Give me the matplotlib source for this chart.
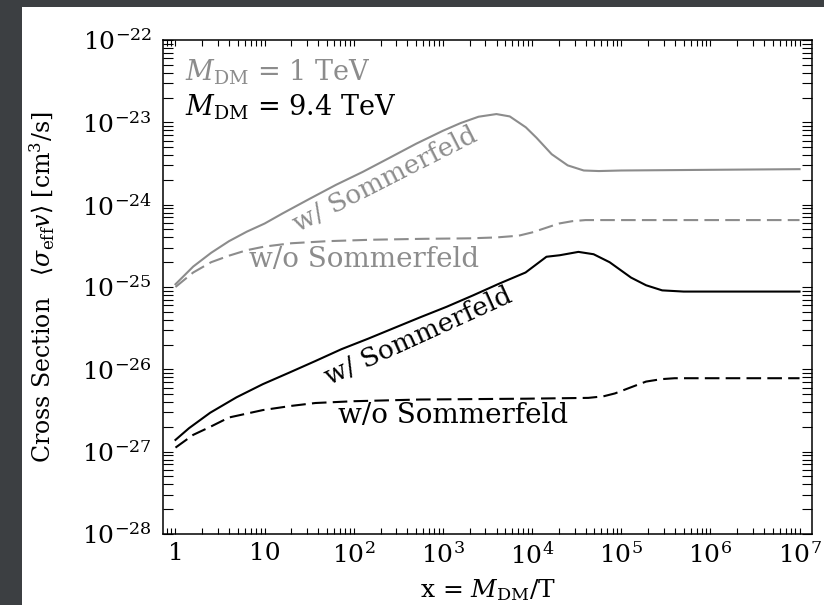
import numpy as np
import matplotlib
matplotlib.use('Agg')
import matplotlib.pyplot as plt
from matplotlib.patches import Rectangle
from matplotlib.ticker import LogLocator, FixedLocator, FixedFormatter, NullFormatter

plt.rcParams['font.family'] = ['DejaVu Serif']
plt.rcParams['mathtext.fontset'] = 'dejavuserif'

# thermally averaged cross sections vs x = M_DM/T
# M_DM = 1 TeV, with Sommerfeld enhancement
x_1tev_sf = [1, 1.58, 2.51, 3.98, 6.31, 10, 15.8, 31.6, 63.1, 126, 251, 501,
             1000, 1580, 2510, 3980, 5620, 8510, 11200, 16600, 25100, 38000,
             56200, 1e5, 1e6, 1e7]
y_1tev_sf = [1.08e-25, 1.77e-25, 2.6e-25, 3.6e-25, 4.7e-25, 5.9e-25, 7.8e-25,
             1.17e-24, 1.74e-24, 2.5e-24, 3.7e-24, 5.5e-24,
             7.9e-24, 9.8e-24, 1.17e-23, 1.26e-23, 1.18e-23, 8.7e-24,
             6.5e-24, 4.1e-24, 3.0e-24, 2.6e-24,
             2.56e-24, 2.6e-24, 2.65e-24, 2.7e-24]

# M_DM = 1 TeV, without Sommerfeld
x_1tev = [1, 1.58, 2.51, 3.98, 6.31, 10, 20, 50, 158, 631, 2000, 3980,
          7080, 10000, 14100, 20000, 28200, 39800, 1e5, 1e6, 1e7]
y_1tev = [1.0e-25, 1.5e-25, 2.0e-25, 2.4e-25, 2.8e-25, 3.1e-25, 3.4e-25,
          3.6e-25, 3.75e-25, 3.85e-25, 3.9e-25, 4.0e-25,
          4.2e-25, 4.6e-25, 5.2e-25, 5.9e-25, 6.3e-25, 6.5e-25, 6.5e-25,
          6.5e-25, 6.5e-25]

# M_DM = 9.4 TeV, with Sommerfeld enhancement
x_94tev_sf = [1, 1.42, 2.45, 4.83, 9.53, 18.8, 37.0, 73.0, 144, 284, 560,
              1100, 2170, 4290, 8450, 14500, 20400, 33100, 49000, 74100,
              1.29e5, 1.9e5, 2.88e5, 5.01e5, 1e6, 1e7]
y_94tev_sf = [1.39e-27, 1.93e-27, 2.97e-27, 4.57e-27, 6.6e-27, 9.1e-27,
              1.26e-26, 1.76e-26, 2.35e-26, 3.18e-26, 4.3e-26,
              5.75e-26, 7.9e-26, 1.1e-25, 1.5e-25, 2.33e-25, 2.43e-25,
              2.67e-25, 2.5e-25, 2.0e-25,
              1.3e-25, 1.05e-25, 9.1e-26, 8.8e-26, 8.8e-26, 8.8e-26]

# M_DM = 9.4 TeV, without Sommerfeld
x_94tev = [1, 1.58, 2.45, 3.98, 9.55, 20, 37.2, 100, 562, 8510, 42700, 63100,
           85100, 1.26e5, 1.9e5, 2.82e5, 3.98e5, 1e6, 1e7]
y_94tev = [1.12e-27, 1.6e-27, 2.0e-27, 2.6e-27, 3.2e-27, 3.6e-27, 3.9e-27,
           4.1e-27, 4.3e-27, 4.4e-27, 4.5e-27, 4.7e-27,
           5.1e-27, 6.0e-27, 7.1e-27, 7.6e-27, 7.8e-27, 7.8e-27, 7.8e-27]

xticks = [1, 10, 1e2, 1e3, 1e4, 1e5, 1e6, 1e7]
xticklabels = ['1', '10', '$10^2$', '$10^3$', '$10^4$', '$10^5$', '$10^6$', '$10^7$']
yticks = [1e-28, 1e-27, 1e-26, 1e-25, 1e-24, 1e-23, 1e-22]
yticklabels = ['$10^{-28}$', '$10^{-27}$', '$10^{-26}$', '$10^{-25}$',
               '$10^{-24}$', '$10^{-23}$', '$10^{-22}$']

grey = '#8c8c8c'
fs = 18

fig = plt.figure(figsize=(8.24, 6.05), dpi=100, facecolor='#3c3f42')
# white sheet, dark border only along the left and top edges
fig.add_artist(Rectangle((22/824, 0), 1 - 22/824, 1 - 7/605,
                         transform=fig.transFigure, facecolor='white',
                         edgecolor='none', zorder=0))
ax = fig.add_axes([163/824, 1 - 534/605, 649/824, 494/605])

ax.plot(x_1tev_sf, y_1tev_sf, color=grey, lw=1.5)
ax.plot(x_1tev, y_1tev, color=grey, lw=1.5, dashes=(7, 3))
ax.plot(x_94tev_sf, y_94tev_sf, color='black', lw=1.5)
ax.plot(x_94tev, y_94tev, color='black', lw=1.5, dashes=(7, 3))

ax.set_xscale('log')
ax.set_yscale('log')
ax.set_xlim(10**-0.14, 10**7.14)
ax.set_ylim(1e-28, 1e-22)

ax.xaxis.set_major_locator(FixedLocator(xticks))
ax.xaxis.set_major_formatter(FixedFormatter(xticklabels))
ax.xaxis.set_minor_locator(LogLocator(base=10, subs=np.arange(2, 10), numticks=20))
ax.xaxis.set_minor_formatter(NullFormatter())
ax.yaxis.set_major_locator(FixedLocator(yticks))
ax.yaxis.set_major_formatter(FixedFormatter(yticklabels))
ax.yaxis.set_minor_locator(LogLocator(base=10, subs=np.arange(2, 10), numticks=20))
ax.yaxis.set_minor_formatter(NullFormatter())

ax.tick_params(which='both', direction='in', top=True, right=True,
               labelsize=fs, width=0.8)
ax.tick_params(axis='x', which='both', length=4, pad=6)
ax.tick_params(axis='y', which='both', length=7, pad=8)
for s in ax.spines.values():
    s.set_linewidth(1.1)

ax.set_xlabel(r'x = $M_{\rm DM}$/T', fontsize=fs, va='baseline')
ax.xaxis.set_label_coords(0.5, -0.127)
ax.set_ylabel(r'Cross Section   $\langle\sigma_{\rm eff}v\rangle$ [cm$^3$/s]',
              fontsize=17, va='center')
ax.yaxis.set_label_coords(-0.186, 0.5)

ax.text(0.034, 0.919, r'$M_{\rm DM}$ = 1 TeV', transform=ax.transAxes,
        color=grey, fontsize=19.5, va='baseline')
ax.text(0.034, 0.848, r'$M_{\rm DM}$ = 9.4 TeV', transform=ax.transAxes,
        color='black', fontsize=19.5, va='baseline')

ax.text(224, 2.05e-24, 'w/ Sommerfeld', color=grey, fontsize=19,
        rotation=27, rotation_mode='anchor', ha='center', va='center')
ax.text(130, 1.77e-25, 'w/o Sommerfeld', color=grey, fontsize=20,
        ha='center', va='baseline')
ax.text(527, 2.54e-26, 'w/ Sommerfeld', color='black', fontsize=19,
        rotation=24.5, rotation_mode='anchor', ha='center', va='center')
ax.text(1300, 2.26e-27, 'w/o Sommerfeld', color='black', fontsize=20,
        ha='center', va='baseline')

fig.savefig('out.png', dpi=100, facecolor=fig.get_facecolor())
